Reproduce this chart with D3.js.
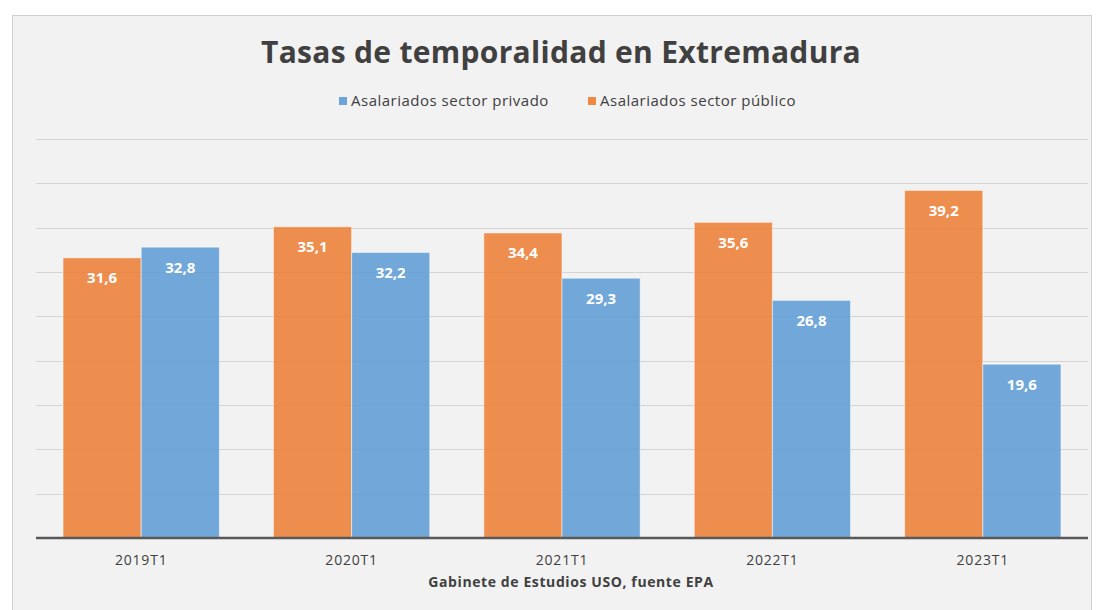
<!DOCTYPE html>
<html>
<head>
<meta charset="utf-8">
<script src="https://cdn.jsdelivr.net/npm/d3@7"></script>
<style>
  body { margin: 0; background: #ffffff; }
  svg { display: block; font-family: "Open Sans", sans-serif; }
</style>
</head>
<body>
<svg id="chart" width="1097" height="610"></svg>
<script>
// datos
var periodos = ["2019T1", "2020T1", "2021T1", "2022T1", "2023T1"];
var privado = [32.8, 32.2, 29.3, 26.8, 19.6];
var publico = [31.6, 35.1, 34.4, 35.6, 39.2];
var series = ["Asalariados sector público", "Asalariados sector privado"];
var yTicks = [0, 5, 10, 15, 20, 25, 30, 35, 40, 45];

var colores = { "Asalariados sector privado": "#5b9bd5", "Asalariados sector público": "#ed7d31" };

var svg = d3.select("#chart");
var width = +svg.attr("width"),
    height = +svg.attr("height");

// panel de fondo
svg.append("rect")
    .attr("x", 12.5).attr("y", 15.5)
    .attr("width", 1079).attr("height", 610)
    .attr("fill", "#f2f2f2")
    .attr("stroke", "#d0d0d0");

var margin = { left: 36, right: 9, top: 0, bottom: 0 };
var plotTop = 139, plotBottom = 538;

var x0 = d3.scaleBand()
    .domain(periodos)
    .range([margin.left, width - margin.right])
    .paddingInner(0.257)
    .paddingOuter(0.1285);

var x1 = d3.scaleBand()
    .domain(series)
    .range([0, x0.bandwidth()]);

var y = d3.scaleLinear()
    .domain([0, 45])
    .range([plotBottom, plotTop]);

// rejilla
svg.append("g")
    .selectAll("line")
    .data(yTicks.slice(1))
    .enter().append("line")
    .attr("x1", margin.left).attr("x2", width - margin.right)
    .attr("y1", function (d) { return Math.round(y(d)) + 0.5; })
    .attr("y2", function (d) { return Math.round(y(d)) + 0.5; })
    .attr("stroke", "#d4d4d4")
    .attr("stroke-width", 1);

var filas = periodos.map(function (p, i) {
    return [
        { periodo: p, serie: series[0], valor: publico[i] },
        { periodo: p, serie: series[1], valor: privado[i] }
    ];
});

var grupos = svg.append("g")
    .selectAll("g")
    .data(filas)
    .enter().append("g")
    .attr("transform", function (d) { return "translate(" + x0(d[0].periodo) + ",0)"; });

grupos.selectAll("rect")
    .data(function (d) { return d; })
    .enter().append("rect")
    .attr("x", function (d) { return x1(d.serie); })
    .attr("y", function (d) { return y(d.valor); })
    .attr("width", x1.bandwidth())
    .attr("height", function (d) { return y(0) - y(d.valor); })
    .attr("fill", function (d) { return colores[d.serie]; })
    .attr("fill-opacity", 0.85)
    .attr("stroke", "#ffffff")
    .attr("stroke-opacity", 0.5)
    .attr("stroke-width", 1);

// etiquetas de valor
grupos.selectAll("text")
    .data(function (d) { return d; })
    .enter().append("text")
    .attr("x", function (d) { return x1(d.serie) + x1.bandwidth() / 2; })
    .attr("y", function (d) { return y(d.valor) + 25.5; })
    .attr("text-anchor", "middle")
    .attr("fill", "#ffffff")
    .attr("font-size", "15px")
    .attr("font-weight", "bold")
    .text(function (d) { return d3.format(".1f")(d.valor).replace(".", ","); });

// eje x
var ejeX = svg.append("g")
    .attr("transform", "translate(0," + plotBottom + ")")
    .call(d3.axisBottom(x0).tickSize(0).tickPadding(17));
ejeX.select(".domain")
    .attr("d", "M" + margin.left + ",0H" + (width - margin.right))
    .attr("stroke", "#595959")
    .attr("stroke-width", 2.5);
ejeX.selectAll("text")
    .attr("font-family", "Open Sans, sans-serif")
    .attr("font-size", "14px")
    .attr("letter-spacing", "0.8px")
    .attr("fill", "#404040");

// titulo
svg.append("text")
    .attr("x", 561).attr("y", 63)
    .attr("text-anchor", "middle")
    .attr("font-size", "30px")
    .attr("font-weight", "bold")
    .attr("letter-spacing", "0.3px")
    .attr("fill", "#404040")
    .text("Tasas de temporalidad en Extremadura");

// leyenda
var leyenda = [
    { nombre: "Asalariados sector privado", x: 339 },
    { nombre: "Asalariados sector público", x: 588 }
];
var ley = svg.append("g")
    .selectAll("g")
    .data(leyenda)
    .enter().append("g")
    .attr("transform", function (d) { return "translate(" + d.x + ",97)"; });
ley.append("rect")
    .attr("width", 8).attr("height", 8)
    .attr("fill", function (d) { return colores[d.nombre]; })
    .attr("fill-opacity", 0.9);
ley.append("text")
    .attr("x", 12).attr("y", 9)
    .attr("font-size", "15px")
    .attr("letter-spacing", "0.5px")
    .attr("fill", "#404040")
    .text(function (d) { return d.nombre; });

// fuente
svg.append("text")
    .attr("x", 571).attr("y", 587)
    .attr("text-anchor", "middle")
    .attr("font-size", "14px")
    .attr("font-weight", "bold")
    .attr("letter-spacing", "0.6px")
    .attr("fill", "#404040")
    .text("Gabinete de Estudios USO, fuente EPA");
</script>
</body>
</html>
